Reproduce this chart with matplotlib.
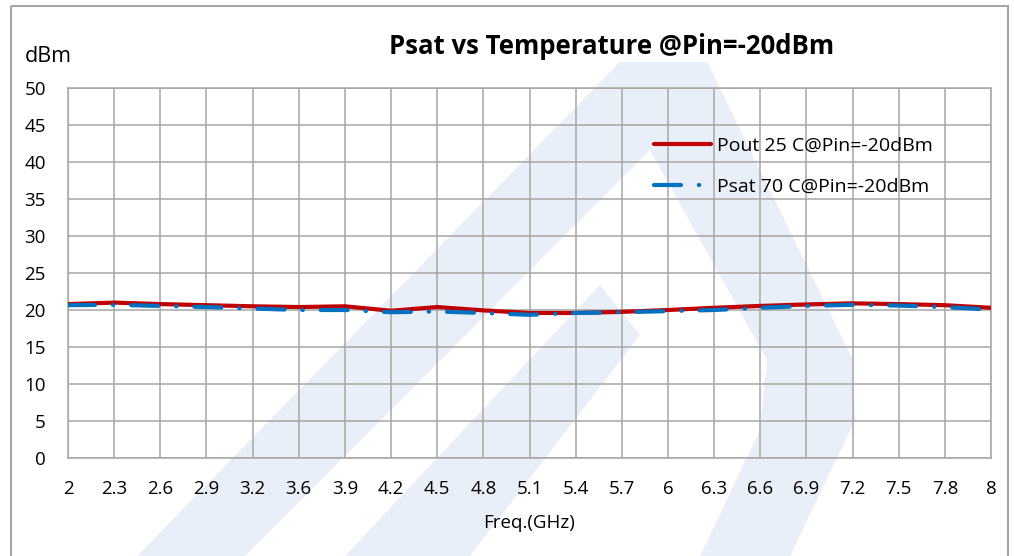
import matplotlib
matplotlib.use("Agg")
import matplotlib.pyplot as plt
from matplotlib.patches import Rectangle, Polygon

plt.rcParams['font.family'] = ['Open Sans', 'DejaVu Sans']
plt.rcParams['lines.scale_dashes'] = False

freq_labels = ["2", "2.3", "2.6", "2.9", "3.2", "3.6", "3.9", "4.2", "4.5", "4.8", "5.1",
               "5.4", "5.7", "6", "6.3", "6.6", "6.9", "7.2", "7.5", "7.8", "8"]
pout_25c = [20.8, 21.0, 20.8, 20.65, 20.5, 20.4, 20.5, 19.9, 20.4, 19.95, 19.6,
            19.6, 19.75, 20.0, 20.3, 20.55, 20.75, 20.9, 20.8, 20.65, 20.3]
psat_70c = [20.65, 20.7, 20.55, 20.4, 20.2, 20.0, 20.0, 19.7, 19.8, 19.6, 19.35,
            19.6, 19.7, 19.85, 20.0, 20.3, 20.55, 20.7, 20.6, 20.4, 20.05]
y_ticks = [0, 5, 10, 15, 20, 25, 30, 35, 40, 45, 50]

W, H = 1014, 556
fig = plt.figure(figsize=(W / 100, H / 100), dpi=100)

# faint watermark logo behind the chart (pixel coords, y down)
bg = fig.add_axes([0, 0, 1, 1], zorder=0)
bg.set_xlim(0, W)
bg.set_ylim(H, 0)
bg.axis("off")
wm = "#e8eff8"
shapes = [
    [(137, 556), (620, 62), (707, 62), (853, 360), (855, 420), (790, 556), (700, 556),
     (760, 430), (767, 360), (650, 150), (245, 556)],
    [(345, 556), (470, 556), (640, 335), (600, 285)],
]
for s in shapes:
    bg.add_patch(Polygon(s, closed=True, facecolor=wm, edgecolor="none"))

# outer chart frame
bg.add_patch(Rectangle((11, 6), 997, 600, fill=False, edgecolor="#a6a6a6", linewidth=1.5))

left, right, top, bottom = 68, 991, 88, 458
ax = fig.add_axes([left / W, 1 - bottom / H, (right - left) / W, (bottom - top) / H], zorder=1)
ax.set_facecolor("none")

x = list(range(len(freq_labels)))
ax.plot(x, pout_25c, color="#c00000", linewidth=3, solid_capstyle="round",
        label="Pout 25 C@Pin=-20dBm", zorder=3)
ax.plot(x, psat_70c, color="#0070c0", linewidth=3, dash_capstyle="round",
        dashes=(19.4, 12.9, 0.3, 12.9), label="Psat 70 C@Pin=-20dBm", zorder=4)

ax.set_xlim(0, len(freq_labels) - 1)
ax.set_ylim(0, 50)
ax.set_xticks(x)
ax.set_xticklabels(freq_labels)
ax.set_yticks(y_ticks)
ax.grid(True, color="#a6a6a6", linewidth=1.1)
ax.set_axisbelow(True)
for s in ax.spines.values():
    s.set_color("#a6a6a6")
    s.set_linewidth(1.1)
ax.tick_params(length=0, labelsize=13.5, colors="#000000")
ax.tick_params(axis="x", pad=16)
ax.tick_params(axis="y", pad=16)

ax.set_xlabel("Freq.(GHz)", fontsize=13.5, labelpad=11)

fig.text(612 / W, 1 - 47 / H, "Psat vs Temperature @Pin=-20dBm", ha="center",
         va="center", fontsize=18.5, fontweight="bold")
fig.text(25 / W, 1 - 57 / H, "dBm", ha="left", va="center", fontsize=15.5)

leg = ax.legend(loc="upper left", bbox_to_anchor=(654 / W, 1 - 137 / H),
                bbox_transform=fig.transFigure, frameon=False, fontsize=14,
                handlelength=2.95, handletextpad=0.3, labelspacing=1.18,
                borderaxespad=0, borderpad=0)

plt.savefig("out.png", dpi=100)
